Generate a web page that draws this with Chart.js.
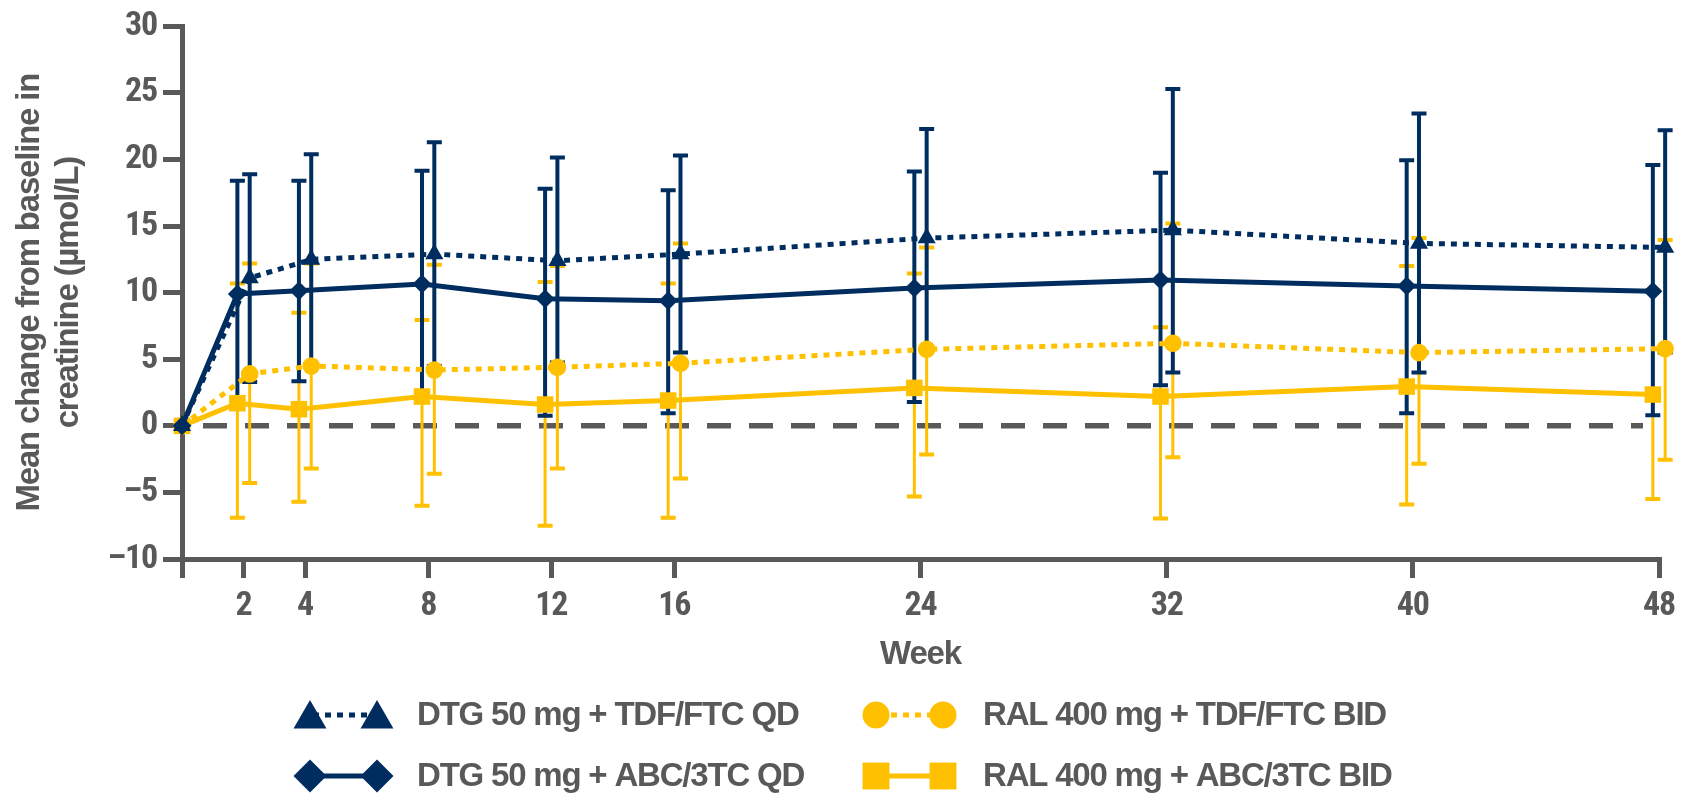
<!DOCTYPE html>
<html lang="en">

<head>
    <meta charset="UTF-8">
    <title>Creatinine change from baseline</title>
    <style>
        body {
            margin: 0;
            padding: 0;
            background-color: #fff;
        }

        .chart-box {
            width: 1691px;
            height: 799px;
            position: relative;
        }
    </style>
</head>

<body>

    <div class="chart-box">
        <canvas id="creatChart"></canvas>
    </div>

    <script src="https://cdn.jsdelivr.net/npm/chart.js"></script>

    <script>
        // data (weeks, mean change and error bar ends)
        var weeks = [0, 2, 4, 8, 12, 16, 24, 32, 40, 48];
        var xTickWeeks = [0, 2, 4, 8, 12, 16, 24, 32, 40, 48];
        var yTickValues = [-10, -5, 0, 5, 10, 15, 20, 25, 30];

        var seriesNames = [
            'DTG 50 mg + TDF/FTC QD',
            'DTG 50 mg + ABC/3TC QD',
            'RAL 400 mg + TDF/FTC BID',
            'RAL 400 mg + ABC/3TC BID'
        ];

        var dtgTdfMean = [0, 11.1, 12.5, 12.9, 12.4, 12.9, 14.1, 14.7, 13.7, 13.4];
        var dtgTdfHigh = [null, 18.9, 20.4, 21.3, 20.15, 20.3, 22.3, 25.3, 23.45, 22.2];
        var dtgTdfLow = [null, 3.3, 4.6, 4.5, 4.75, 5.5, 5.9, 4.0, 4.0, 5.5];

        var dtgAbcMean = [0, 9.9, 10.15, 10.65, 9.55, 9.4, 10.35, 10.95, 10.5, 10.1];
        var dtgAbcHigh = [null, 18.4, 18.4, 19.15, 17.8, 17.7, 19.1, 19.0, 19.95, 19.6];
        var dtgAbcLow = [null, 1.4, 3.35, 2.15, 0.75, 0.95, 1.8, 3.05, 0.95, 0.8];

        var ralTdfMean = [0, 3.9, 4.5, 4.2, 4.4, 4.7, 5.75, 6.2, 5.5, 5.8];
        var ralTdfHigh = [null, 12.2, 12.2, 12.1, 12.0, 13.7, 13.4, 15.2, 14.1, 13.95];
        var ralTdfLow = [null, -4.3, -3.2, -3.6, -3.2, -3.95, -2.15, -2.35, -2.85, -2.55];

        var ralAbcMean = [0, 1.7, 1.25, 2.2, 1.6, 1.9, 2.85, 2.2, 2.95, 2.35];
        var ralAbcHigh = [null, 10.7, 8.5, 7.95, 10.8, 10.7, 11.45, 7.4, 12.0, 10.2];
        var ralAbcLow = [null, -6.9, -5.7, -6.0, -7.5, -6.9, -5.3, -6.95, -5.9, -5.5];

        var NAVY = '#002D5F';
        var GOLD = '#FFC000';
        var GREY = '#595959';
        var NARROW = '"Liberation Sans Narrow", "Arial Narrow", "Roboto Condensed", "DejaVu Sans Condensed", sans-serif';
        var SANS = '"Liberation Sans", Arial, sans-serif';
        var TIGHT = '-1.2px'; // the figure's text is set slightly condensed

        // side-by-side shift (in weeks) so the bars at one visit don't overlap
        function points(mean, low, high, shift) {
            return weeks.map(function (w, i) {
                return { x: w === 0 ? 0 : w + shift, y: mean[i], lo: low[i], hi: high[i] };
            });
        }

        function series(label, mean, low, high, shift, color, style, radius, legendRadius, dash, barWidth) {
            return {
                label: label,
                data: points(mean, low, high, shift),
                borderColor: color,
                backgroundColor: color,
                pointBackgroundColor: color,
                pointBorderWidth: 0,
                pointStyle: style,
                pointRadius: radius,
                legendRadius: legendRadius,
                borderWidth: 5,
                borderDash: dash,
                borderCapStyle: 'butt',
                tension: 0,
                clip: false,
                barWidth: barWidth
            };
        }

        var datasets = [
            series(seriesNames[0], dtgTdfMean, dtgTdfLow, dtgTdfHigh, 0.2, NAVY, 'triangle', 10.5, 19, [6, 6], 4),
            series(seriesNames[1], dtgAbcMean, dtgAbcLow, dtgAbcHigh, -0.2, NAVY, 'rectRot', 9.5, 16.5, [], 4),
            series(seriesNames[2], ralTdfMean, ralTdfLow, ralTdfHigh, 0.2, GOLD, 'circle', 8.8, 13.5, [6, 6], 3),
            series(seriesNames[3], ralAbcMean, ralAbcLow, ralAbcHigh, -0.2, GOLD, 'rect', 11.7, 19, [], 3)
        ];

        var tightText = {
            id: 'tightText',
            beforeDraw: function (chart) {
                chart.ctx.letterSpacing = TIGHT;
            }
        };

        // zero reference line + error bars, under the lines and markers
        var errorBars = {
            id: 'errorBars',
            beforeDatasetsDraw: function (chart) {
                var ctx = chart.ctx, area = chart.chartArea;
                var xs = chart.scales.x, ys = chart.scales.y;
                ctx.save();
                var y0 = ys.getPixelForValue(0);
                ctx.strokeStyle = GREY;
                ctx.lineWidth = 5.5;
                ctx.setLineDash([24, 18]);
                ctx.beginPath();
                ctx.moveTo(area.left + 21, y0);
                ctx.lineTo(area.right - 16, y0);
                ctx.stroke();
                ctx.setLineDash([]);

                for (var d = chart.data.datasets.length - 1; d >= 0; d--) {
                    var ds = chart.data.datasets[d];
                    ctx.strokeStyle = ds.borderColor;
                    ds.data.forEach(function (p) {
                        if (p.lo == null) return;
                        var px = xs.getPixelForValue(p.x);
                        var top = ys.getPixelForValue(p.hi);
                        var bot = ys.getPixelForValue(p.lo);
                        ctx.lineWidth = ds.barWidth;
                        ctx.beginPath();
                        ctx.moveTo(px, top);
                        ctx.lineTo(px, bot);
                        ctx.stroke();
                        ctx.lineWidth = 4;
                        ctx.beginPath();
                        ctx.moveTo(px - 7.5, top);
                        ctx.lineTo(px + 7.5, top);
                        ctx.moveTo(px - 7.5, bot);
                        ctx.lineTo(px + 7.5, bot);
                        ctx.stroke();
                    });
                }
                ctx.restore();
            }
        };

        // 2 x 2 legend under the axis title
        var sideLegend = {
            id: 'sideLegend',
            afterDraw: function (chart) {
                var ctx = chart.ctx;
                var cols = [310, 876];
                var rows = [715, 776];
                var order = [[0, 0], [1, 0], [0, 1], [1, 1]]; // [row, col] per dataset
                ctx.save();
                chart.data.datasets.forEach(function (ds, i) {
                    var x1 = cols[order[i][1]], x2 = x1 + 67, y = rows[order[i][0]];
                    ctx.strokeStyle = ds.borderColor;
                    ctx.lineWidth = 5;
                    ctx.setLineDash(ds.borderDash);
                    ctx.lineDashOffset = -3;
                    ctx.beginPath();
                    ctx.moveTo(x1, y);
                    ctx.lineTo(x2, y);
                    ctx.stroke();
                    ctx.setLineDash([]);
                    [x1, x2].forEach(function (px) {
                        ctx.fillStyle = ds.backgroundColor;
                        Chart.helpers.drawPoint(ctx, {
                            pointStyle: ds.pointStyle,
                            radius: ds.legendRadius,
                            rotation: 0,
                            borderWidth: 0
                        }, px, ds.pointStyle === 'triangle' ? y + 4 : y);
                    });
                    ctx.fillStyle = GREY;
                    ctx.letterSpacing = TIGHT;
                    ctx.font = 'bold 33px ' + SANS;
                    ctx.textBaseline = 'middle';
                    ctx.textAlign = 'left';
                    ctx.fillText(ds.label, x2 + 40, y + 1);
                });
                ctx.restore();
            }
        };

        var ctx = document.getElementById('creatChart').getContext('2d');
        var creatChart = new Chart(ctx, {
            type: 'line',
            data: { datasets: datasets },
            plugins: [tightText, errorBars, sideLegend],
            options: {
                responsive: true,
                maintainAspectRatio: false,
                animation: false,
                layout: {
                    padding: { left: 10, right: 32, top: 24, bottom: 122 }
                },
                plugins: {
                    legend: { display: false },
                    tooltip: { enabled: false }
                },
                scales: {
                    x: {
                        type: 'linear',
                        min: 0,
                        max: 48,
                        afterFit: function (scale) { scale.height = 118; },
                        afterBuildTicks: function (scale) {
                            scale.ticks = xTickWeeks.map(function (v) { return { value: v }; });
                        },
                        ticks: {
                            color: GREY,
                            padding: 8,
                            autoSkip: false,
                            maxRotation: 0,
                            font: { family: NARROW, size: 34, weight: 'bold' },
                            callback: function (v) { return v === 0 ? '' : v; }
                        },
                        grid: {
                            drawOnChartArea: false,
                            drawTicks: true,
                            tickLength: 19,
                            color: GREY,
                            lineWidth: 5
                        },
                        border: { display: true, color: GREY, width: 5 },
                        title: {
                            display: true,
                            text: 'Week',
                            color: GREY,
                            padding: { top: 0, bottom: 2 },
                            font: { family: SANS, size: 33, weight: 'bold' }
                        }
                    },
                    y: {
                        min: -10,
                        max: 30,
                        afterFit: function (scale) { scale.width = 172; },
                        afterBuildTicks: function (scale) {
                            scale.ticks = yTickValues.map(function (v) { return { value: v }; });
                        },
                        ticks: {
                            color: GREY,
                            padding: 6,
                            font: { family: NARROW, size: 34, weight: 'bold' },
                            callback: function (v) { return v < 0 ? '\u2013' + Math.abs(v) : v; }
                        },
                        grid: {
                            drawOnChartArea: false,
                            drawTicks: true,
                            tickLength: 19,
                            color: GREY,
                            lineWidth: 5
                        },
                        border: { display: true, color: GREY, width: 5 },
                        title: {
                            display: true,
                            text: ['Mean change from baseline in', 'creatinine (\u00b5mol/L)'],
                            color: GREY,
                            padding: { top: 0, bottom: 0 },
                            font: { family: SANS, size: 33, weight: 'bold', lineHeight: 1.2 }
                        }
                    }
                }
            }
        });
    </script>

</body>

</html>
